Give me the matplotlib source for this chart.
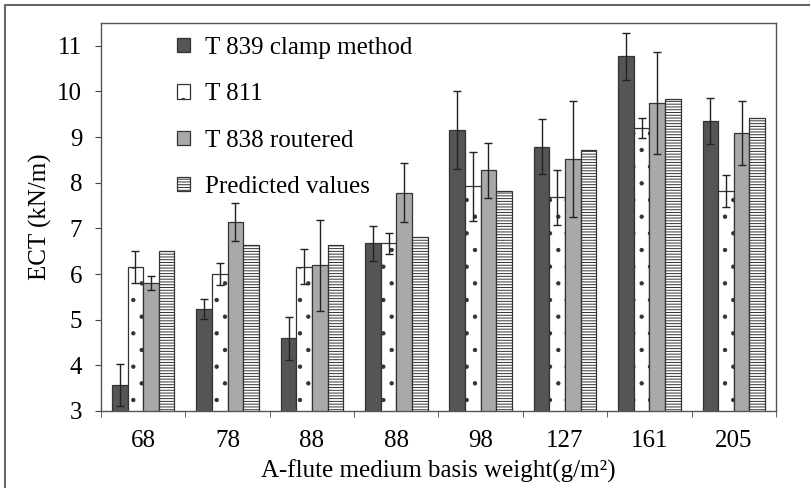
import numpy as np
import matplotlib
matplotlib.use("Agg")
import matplotlib.pyplot as plt
from matplotlib.lines import Line2D

plt.rcParams["font.family"] = ["Liberation Serif", "DejaVu Serif"]
plt.rcParams["hatch.linewidth"] = 0.7

# basis weights (g/m2) on the x axis
weights = ["68", "78", "88", "88", "98", "127", "161", "205"]

# ECT values (kN/m) and their error bars
t839 = [3.57, 5.23, 4.59, 6.67, 9.16, 8.79, 10.77, 9.35]
t839_err = [0.45, 0.22, 0.48, 0.38, 0.85, 0.60, 0.51, 0.50]
t811 = [6.16, 6.00, 6.16, 6.67, 7.92, 7.68, 9.20, 7.82]
t811_err = [0.35, 0.25, 0.38, 0.24, 0.75, 0.60, 0.22, 0.36]
t838 = [5.80, 7.14, 6.19, 7.78, 8.27, 8.52, 9.75, 9.09]
t838_err = [0.15, 0.42, 1.00, 0.65, 0.60, 1.27, 1.12, 0.70]
predicted = [6.50, 6.63, 6.63, 6.82, 7.83, 8.71, 9.84, 9.43]

series = [
    ("T 839 clamp method", t839, t839_err, "#555555", None),
    ("T 811", t811, t811_err, "white", "."),
    ("T 838 routered", t838, t838_err, "#a9a9a9", None),
    ("Predicted values", predicted, None, "white", "------"),
]

fs = 18

fig = plt.figure(figsize=(8.1, 4.88), dpi=100)
ax = fig.add_axes([0.1247, 0.1578, 0.8333, 0.795])

x = np.arange(len(weights)) + 0.5
w = 0.185
for k, (name, vals, err, color, hatch) in enumerate(series):
    ax.bar(x + (k - 1.5) * w, vals, w, bottom=0, color=color, edgecolor="#333333",
           linewidth=0.9, hatch=hatch, label=name, zorder=2)
    if err is not None:
        ax.errorbar(x + (k - 1.5) * w, vals, yerr=err, fmt="none", ecolor="#222222",
                    elinewidth=1.0, capsize=3, capthick=1.0, zorder=3)

ax.set_xlim(0, len(weights))
ax.set_ylim(3, 11.5)
ax.set_yticks(range(3, 12))
ax.set_xticks(x)
ax.set_xticklabels(weights)
ax.set_xticks(np.arange(len(weights) + 1), minor=True)
ax.tick_params(axis="x", which="major", length=0, pad=14, labelsize=fs)
ax.tick_params(axis="x", which="minor", length=4.5, direction="out", color="#444444")
ax.tick_params(axis="y", length=4.5, direction="out", color="#444444", labelsize=fs, pad=9)
for s in ax.spines.values():
    s.set_color("#555555")
    s.set_linewidth(1.0)

ax.set_ylabel("ECT (kN/m)", fontsize=fs, labelpad=4)
ax.set_xlabel("A-flute medium basis weight(g/m²)", fontsize=fs, labelpad=5)

ax.legend(loc="upper left", bbox_to_anchor=(0.1126, 0.964), frameon=False, fontsize=fs,
          handlelength=0.5, handleheight=0.5, handletextpad=0.6, labelspacing=0.97,
          borderaxespad=0, borderpad=0)

# page frame: only the top and left edges show
fig.lines.append(Line2D([0.006, 0.006, 1.0], [0.0, 0.989, 0.989], transform=fig.transFigure,
                        color="#666666", linewidth=1.5))

fig.savefig("out.png", dpi=100)
plt.close(fig)
